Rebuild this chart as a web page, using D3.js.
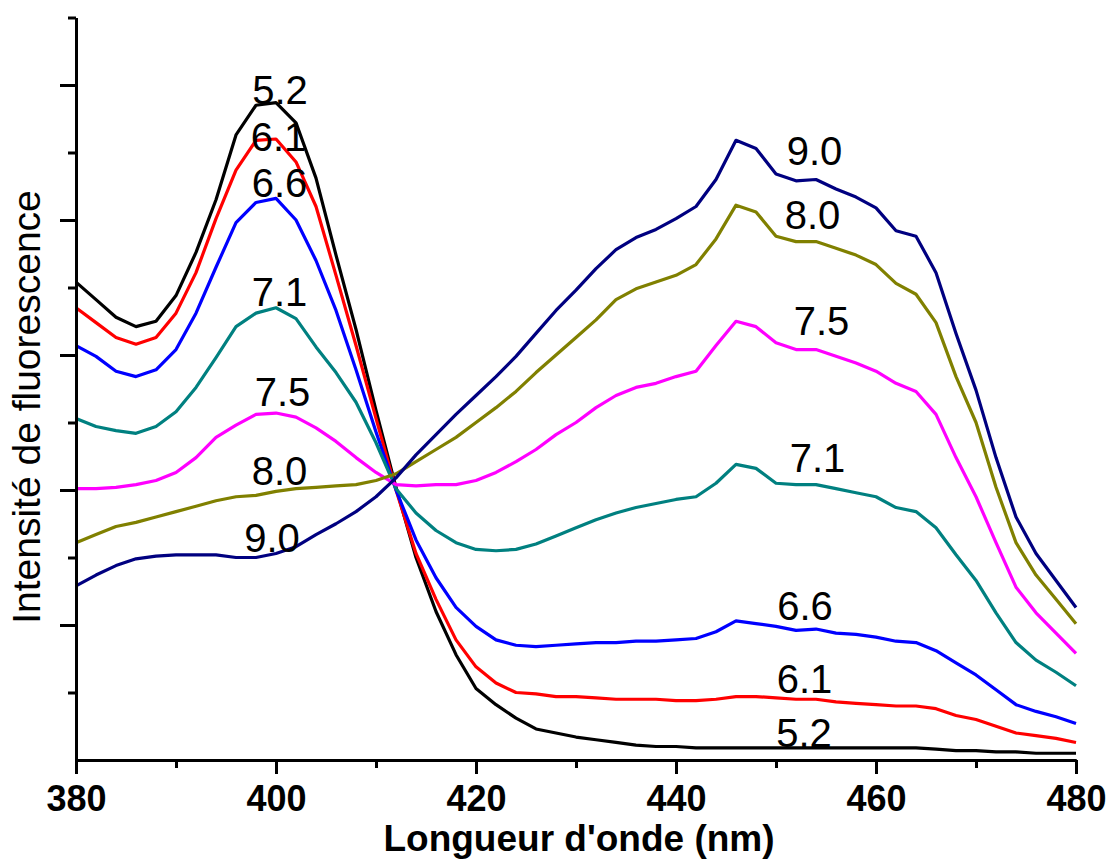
<!DOCTYPE html>
<html>
<head>
<meta charset="utf-8">
<script src="https://cdn.jsdelivr.net/npm/d3@7"></script>
<style>
  body { margin: 0; background: #fff; }
  text { font-family: "Liberation Sans", Arial, sans-serif; }
</style>
</head>
<body>
<div id="chart"></div>
<script>
// Data: fluorescence spectra at several pH values (arbitrary units)
var wavelengths = d3.range(380, 482, 2);

var ph52 = [354,341,328,321,325,344,376,415,463,485,487, 472,431,374,319,259,202,150,110,78,53,
  41,31,23,20,17,15,13,11,10,10, 9,9,9,9,9,9,9,9,9,9, 9,9,8,7,7,6,6,5,5,5];
var ph61 = [335,324,313,308,313,331,361,401,437,459,460, 443,410,359,307,253,200,153,119,89,69,
  57,50,49,47,47,46,45,45,45,44, 44,45,47,47,46,45,45,43,42,41, 40,40,38,33,30,25,20,18,16,13];
var ph66 = [307,299,288,284,289,304,331,365,398,413,416, 400,370,333,289,243,200,163,135,113,99,
  89,85,84,85,86,87,87,88,88,89, 90,95,103,101,99,96,97,94,93,91, 88,87,81,72,63,52,41,36,32,27];
var ph71 = [253,247,244,242,247,258,276,298,321,331,335, 327,306,287,265,235,201,183,170,161,156,
  155,156,160,166,172,178,183,187,190,193, 195,205,219,216,205,204,204,201,198,195, 187,184,172,152,133,109,87,74,65,55];
var ph75 = [201,201,202,204,207,213,224,239,248,256,257, 254,246,236,224,213,204,203,204,204,207,
  213,221,230,241,250,261,270,276,279,284, 288,307,325,321,309,304,304,299,294,288, 279,273,256,224,195,161,128,109,94,79];
var ph80 = [161,167,173,176,180,184,188,192,195,196,199, 201,202,203,204,207,212,221,230,239,250,
  261,273,287,300,313,326,341,349,354,359, 367,386,411,406,388,384,384,379,374,367, 353,345,324,284,250,202,161,137,119,101];
var ph90 = [129,137,144,149,151,152,152,152,150,150,153, 158,167,175,184,195,209,226,241,256,270,
  284,299,316,333,348,364,378,387,393,401, 410,430,459,453,434,429,430,423,417,409, 392,388,361,316,274,224,180,153,133,113];

var phLabels = ["5.2", "6.1", "6.6", "7.1", "7.5", "8.0", "9.0"];
var seriesValues = [ph52, ph61, ph66, ph71, ph75, ph80, ph90];
var colors = ["#000000", "#ff0000", "#0000ff", "#008080", "#ff00ff", "#808000", "#000080"];

// label anchors (wavelength, intensity) near the two peaks
var leftLabelX = [400.4, 400.25, 400.35, 400.35, 400.65, 400.35, 399.6];
var leftLabelY = [486, 451, 417, 336, 262, 204, 154];
var rightLabelX = [452.8, 452.85, 452.9, 454.15, 454.55, 453.65, 453.85];
var rightLabelY = [10, 50, 104, 213, 315, 393, 441];

var xMajorTicks = [380, 400, 420, 440, 460, 480];
var xMinorTicks = [390, 410, 430, 450, 470];
var yMajorTicks = [100, 200, 300, 400, 500];
var yMinorTicks = [50, 150, 250, 350, 450, 550];

// Chart area
var svgWidth = 1109;
var svgHeight = 860;

var svg = d3.select("#chart")
  .append("svg")
  .attr("width", svgWidth)
  .attr("height", svgHeight);

svg.append("rect")
  .attr("width", svgWidth)
  .attr("height", svgHeight)
  .attr("fill", "#fff");

// Scales
var xScale = d3.scaleLinear()
  .domain([380, 480])
  .range([76, 1076]);

var yScale = d3.scaleLinear()
  .domain([0, 550])
  .range([760, 17.5]);

// Lines
var line = d3.line()
  .x(function(d, i) { return xScale(wavelengths[i]); })
  .y(function(d) { return yScale(d); });

svg.append("g")
  .selectAll("path")
  .data(seriesValues)
  .enter()
  .append("path")
  .attr("d", function(d) { return line(d); })
  .attr("fill", "none")
  .attr("stroke", function(d, i) { return colors[i]; })
  .attr("stroke-width", 3.2)
  .attr("stroke-linejoin", "round");

// Axes
function styleAxis(g) {
  g.selectAll("path, line")
    .attr("stroke", "#000")
    .attr("stroke-width", 3);
}

svg.append("g")
  .attr("transform", "translate(0," + yScale(0) + ")")
  .call(d3.axisBottom(xScale).tickValues(xMinorTicks).tickSize(8).tickSizeOuter(0).tickFormat(""))
  .call(styleAxis);

var xAxis = svg.append("g")
  .attr("transform", "translate(0," + yScale(0) + ")")
  .call(d3.axisBottom(xScale).tickValues(xMajorTicks).tickSize(14).tickSizeOuter(0)
    .tickPadding(11).tickFormat(d3.format("d")))
  .call(styleAxis);

xAxis.selectAll("text")
  .attr("fill", "#000")
  .style("font-family", "'Liberation Sans', Arial, sans-serif")
  .style("font-size", "36px")
  .style("font-weight", "bold");

svg.append("g")
  .attr("transform", "translate(" + xScale(380) + ",0)")
  .call(d3.axisLeft(yScale).tickValues(yMinorTicks).tickSize(8).tickSizeOuter(0).tickFormat(""))
  .call(styleAxis);

svg.append("g")
  .attr("transform", "translate(" + xScale(380) + ",0)")
  .call(d3.axisLeft(yScale).tickValues(yMajorTicks).tickSize(16).tickSizeOuter(0).tickFormat(""))
  .call(styleAxis);

// Series labels
var labelGroup = svg.append("g")
  .attr("font-size", 40)
  .attr("text-anchor", "middle")
  .attr("fill", "#000");

labelGroup.selectAll("text.left")
  .data(phLabels)
  .enter()
  .append("text")
  .attr("class", "left")
  .attr("x", function(d, i) { return xScale(leftLabelX[i]); })
  .attr("y", function(d, i) { return yScale(leftLabelY[i]); })
  .text(function(d) { return d; });

labelGroup.selectAll("text.right")
  .data(phLabels)
  .enter()
  .append("text")
  .attr("class", "right")
  .attr("x", function(d, i) { return xScale(rightLabelX[i]); })
  .attr("y", function(d, i) { return yScale(rightLabelY[i]); })
  .text(function(d) { return d; });

// Axis titles
svg.append("text")
  .attr("x", 579)
  .attr("y", 851)
  .attr("text-anchor", "middle")
  .attr("font-size", 37)
  .attr("font-weight", "bold")
  .text("Longueur d'onde (nm)");

svg.append("text")
  .attr("transform", "rotate(-90)")
  .attr("x", -407)
  .attr("y", 40)
  .attr("text-anchor", "middle")
  .attr("font-size", 39)
  .text("Intensité de fluorescence");
</script>
</body>
</html>
